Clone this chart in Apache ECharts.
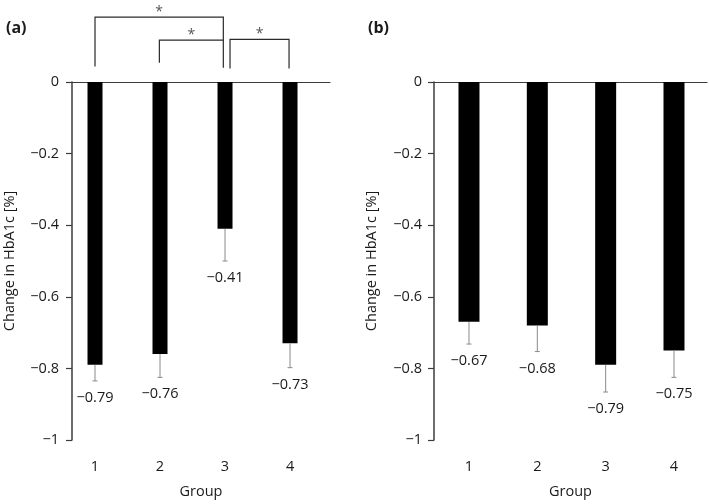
<!DOCTYPE html>
<html>
<head>
<meta charset="utf-8">
<script src="https://cdn.jsdelivr.net/npm/echarts@6/dist/echarts.min.js"></script>
<style>
  html, body { margin: 0; padding: 0; background: #fff; }
  #chart { width: 709px; height: 504px; }
</style>
</head>
<body>
<div id="chart"></div>
<script>
// groups on the x axis
var groups = [1, 2, 3, 4];
// (a) mean change and SD
var meanA = [-0.79, -0.76, -0.41, -0.73];
var sdA = [0.045, 0.065, 0.09, 0.068];
// (b) mean change and SD
var meanB = [-0.67, -0.68, -0.79, -0.75];
var sdB = [0.062, 0.073, 0.076, 0.075];
// y tick values
var yTicks = [0, -0.2, -0.4, -0.6, -0.8, -1];
// significance brackets for (a): [leftX, rightX, top, leftLegEnd, rightLegEnd]
var sigA = [
  [1.0, 2.974, 0.181, 0.043, 0.040],
  [1.99, 2.974, 0.117, 0.054, 0.117],
  [3.077, 3.985, 0.119, 0.038, 0.038]
];

var textColor = '#1a1a1a';
var axisColor = '#3c3c3c';
var font = '"Open Sans", "Noto Sans", sans-serif';

function fmt(v, d) {
  if (Math.abs(v) < 1e-9) return '0';
  if (Math.abs(v + 1) < 1e-9) return '\u22121';
  return (v < 0 ? '\u2212' : '') + Math.abs(v).toFixed(d);
}

function pairs(xs, ys) {
  return xs.map(function (x, i) { return [x, ys[i]]; });
}
function triples(xs, ys, es) {
  return xs.map(function (x, i) { return [x, ys[i], es[i]]; });
}

function errRender(params, api) {
  var x = api.value(0), m = api.value(1), sd = api.value(2);
  var p0 = api.coord([x, m]);
  var p1 = api.coord([x, m - sd]);
  var st = { stroke: '#8a8a8a', lineWidth: 1 };
  return {
    type: 'group',
    children: [
      { type: 'line', shape: { x1: p0[0], y1: p0[1], x2: p1[0], y2: p1[1] }, style: st },
      { type: 'line', shape: { x1: p1[0] - 2.5, y1: p1[1], x2: p1[0] + 2.5, y2: p1[1] }, style: st },
      {
        type: 'text', x: p1[0], y: p1[1] + 17,
        style: {
          text: fmt(m, 2), fill: textColor, fontSize: 14.5, fontFamily: font,
          align: 'center', verticalAlign: 'middle'
        }
      }
    ]
  };
}

function sigRender(params, api) {
  var x1 = api.value(0), x2 = api.value(1), top = api.value(2);
  var a = api.coord([x1, api.value(3)]);
  var b = api.coord([x1, top]);
  var c = api.coord([x2, top]);
  var d = api.coord([x2, api.value(4)]);
  return {
    type: 'group',
    children: [
      {
        type: 'polyline',
        shape: { points: [a, b, c, d] },
        style: { stroke: '#2a2a2a', lineWidth: 1.2, fill: null }
      },
      {
        type: 'text', x: (b[0] + c[0]) / 2, y: b[1] - 5,
        style: {
          text: '*', fill: '#555', fontSize: 14, fontFamily: font,
          align: 'center', verticalAlign: 'middle'
        }
      }
    ]
  };
}

function yAxisOf(gi, margin) {
  return {
    type: 'value', gridIndex: gi, min: -1, max: 0, interval: 0.2,
    name: 'Change in HbA1c [%]', nameLocation: 'middle', nameGap: 55,
    nameTextStyle: { color: textColor, fontSize: 14.5, fontFamily: font },
    axisLine: { show: true, lineStyle: { color: axisColor, width: 1.5 } },
    axisTick: { show: true, inside: false, length: 6, lineStyle: { color: axisColor, width: 1.2 } },
    axisLabel: {
      color: textColor, fontSize: 14.5, fontFamily: font, margin: margin,
      formatter: function (v) { return fmt(v, 1); }
    },
    splitLine: { show: false }
  };
}

function xAxesOf(gi, min, max) {
  return [{
    type: 'value', gridIndex: gi, min: min, max: max, position: 'bottom',
    name: 'Group', nameLocation: 'middle', nameGap: 44,
    nameTextStyle: { color: textColor, fontSize: 14.5, fontFamily: font },
    axisLine: { show: false },
    axisTick: { show: false },
    splitLine: { show: false },
    axisLabel: {
      customValues: groups, color: textColor, fontSize: 14.5, fontFamily: font, margin: 19
    }
  }, {
    type: 'value', gridIndex: gi, min: min, max: max, position: 'top',
    axisLine: { show: true, onZero: false, lineStyle: { color: axisColor, width: 1.2 } },
    axisTick: { show: false },
    axisLabel: { show: false },
    splitLine: { show: false }
  }];
}

var chart = echarts.init(document.getElementById('chart'));
chart.setOption({
  backgroundColor: '#fff',
  animation: false,
  title: [
    { text: '(a)', left: 1, top: 15, textStyle: { fontSize: 16, fontWeight: 'bold', color: textColor, fontFamily: font } },
    { text: '(b)', left: 363, top: 15, textStyle: { fontSize: 16, fontWeight: 'bold', color: textColor, fontFamily: font } }
  ],
  grid: [
    { left: 72, top: 82, width: 258, height: 360 },
    { left: 434, top: 82, width: 273, height: 361 }
  ],
  xAxis: xAxesOf(0, 0.646, 4.615).concat(xAxesOf(1, 0.488, 4.483)),
  yAxis: [yAxisOf(0, 13), yAxisOf(1, 12)],
  series: [
    {
      type: 'bar', xAxisIndex: 0, yAxisIndex: 0, barWidth: 15,
      itemStyle: { color: '#000' }, data: pairs(groups, meanA)
    },
    {
      type: 'custom', xAxisIndex: 0, yAxisIndex: 0, z: 5,
      renderItem: errRender, data: triples(groups, meanA, sdA)
    },
    {
      type: 'custom', xAxisIndex: 0, yAxisIndex: 0, z: 5, clip: false,
      renderItem: sigRender, data: sigA
    },
    {
      type: 'bar', xAxisIndex: 2, yAxisIndex: 1, barWidth: 21,
      itemStyle: { color: '#000' }, data: pairs(groups, meanB)
    },
    {
      type: 'custom', xAxisIndex: 2, yAxisIndex: 1, z: 5,
      renderItem: errRender, data: triples(groups, meanB, sdB)
    }
  ]
});
</script>
</body>
</html>
